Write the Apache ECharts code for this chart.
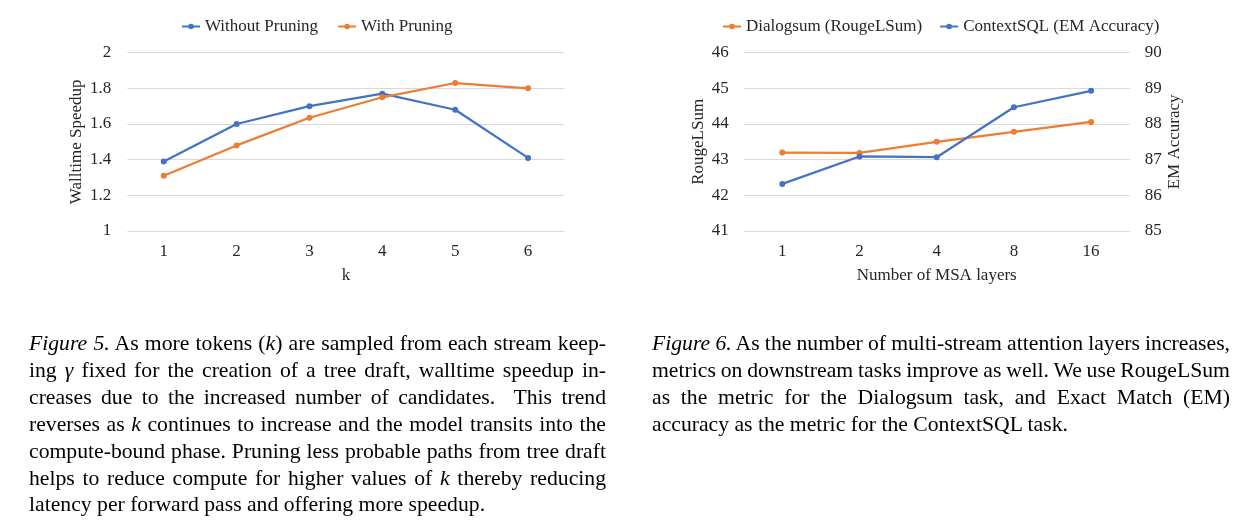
<!DOCTYPE html>
<html><head><meta charset="utf-8">
<script src="https://cdn.jsdelivr.net/npm/echarts@6/dist/echarts.min.js"></script>
<style>
html,body{margin:0;padding:0;background:#fff;width:1257px;height:531px;overflow:hidden;}
#chart{position:absolute;left:0;top:0;width:1257px;height:531px;}
.cap{position:absolute;font-family:"Liberation Serif","Times New Roman",serif;font-size:21.7px;line-height:26.9px;color:#000;}
.cap div{white-space:nowrap;}
.cap span.ln{display:inline-block;white-space:nowrap;}
.cap i{font-style:italic;}
</style></head>
<body>
<div id="chart"></div>
<div class="cap" style="left:29px;top:330px;width:577px;">
<div><span class="ln"><i>Figure 5.</i> As more tokens (<i>k</i>) are sampled from each stream keep-</span></div>
<div><span class="ln">ing <i>γ</i> fixed for the creation of a tree draft, walltime speedup in-</span></div>
<div><span class="ln">creases due to the increased number of candidates.&nbsp; This trend</span></div>
<div><span class="ln">reverses as <i>k</i> continues to increase and the model transits into the</span></div>
<div><span class="ln">compute-bound phase. Pruning less probable paths from tree draft</span></div>
<div><span class="ln">helps to reduce compute for higher values of <i>k</i> thereby reducing</span></div>
<div><span class="last">latency per forward pass and offering more speedup.</span></div>
</div>
<div class="cap" style="left:652px;top:330px;width:578px;">
<div><span class="ln"><i>Figure 6.</i> As the number of multi-stream attention layers increases,</span></div>
<div><span class="ln">metrics on downstream tasks improve as well. We use RougeLSum</span></div>
<div><span class="ln">as the metric for the Dialogsum task, and Exact Match (EM)</span></div>
<div><span class="last">accuracy as the metric for the ContextSQL task.</span></div>
</div>
<script>
// manual justification of caption lines (fixed line breaks as in the figure)
document.querySelectorAll('.cap').forEach(function (cap) {
  var target = parseFloat(cap.style.width);
  cap.querySelectorAll('span.ln').forEach(function (ln) {
    var w = ln.getBoundingClientRect().width;
    var spaces = (ln.textContent.match(/[ \u00a0]/g) || []).length;
    if (spaces > 0) ln.style.wordSpacing = ((target - w) / spaces) + 'px';
  });
});

// ---- data ----
const kCategories = ['1', '2', '3', '4', '5', '6'];
const withoutPruning = [1.39, 1.60, 1.70, 1.77, 1.68, 1.41];
const withPruning = [1.31, 1.48, 1.635, 1.75, 1.83, 1.80];

const msaLayers = ['1', '2', '4', '8', '16'];
const dialogsumRouge = [43.20, 43.19, 43.50, 43.78, 44.06];
const contextSqlEM = [86.32, 87.09, 87.07, 88.47, 88.93];

// ---- styling ----
const BLUE = '#4472C4';
const ORANGE = '#ED7D31';
const FONT = '"Liberation Serif", "Times New Roman", serif';
const TXT = '#262626';
const GRIDC = '#D9D9D9';
const fs = 17;

const chart = echarts.init(document.getElementById('chart'), null, {renderer: 'canvas'});

function catAxis(gridIndex, data, name) {
  return {
    type: 'category', gridIndex, data,
    axisLine: {show: false}, axisTick: {show: false},
    axisLabel: {color: TXT, fontFamily: FONT, fontSize: fs, margin: 12},
    name, nameLocation: 'middle', nameGap: 36,
    nameTextStyle: {color: TXT, fontFamily: FONT, fontSize: fs}
  };
}
function valAxis(gridIndex, min, max, interval, name, position, nameGap, margin) {
  return {
    type: 'value', gridIndex, min, max, interval, position,
    axisLine: {show: false}, axisTick: {show: false},
    splitLine: {show: true, lineStyle: {color: GRIDC, width: 1}},
    axisLabel: {color: TXT, fontFamily: FONT, fontSize: fs, margin},
    name, nameLocation: 'middle', nameGap, nameRotate: 90,
    nameTextStyle: {color: TXT, fontFamily: FONT, fontSize: fs}
  };
}
function lineSeries(name, data, color, xIdx, yIdx) {
  return {
    name, type: 'line', data, xAxisIndex: xIdx, yAxisIndex: yIdx,
    symbol: 'circle', symbolSize: 6, showSymbol: true,
    lineStyle: {color, width: 2.25}, itemStyle: {color},
    animation: false
  };
}

const option = {
  backgroundColor: '#fff',
  animation: false,
  legend: [
    {data: ['Without Pruning', 'With Pruning'], left: 176, top: 13,
     itemWidth: 18, itemHeight: 7, itemGap: 19,
     textStyle: {color: TXT, fontFamily: FONT, fontSize: fs}},
    {data: ['Dialogsum (RougeLSum)', 'ContextSQL (EM Accuracy)'], left: 717, top: 13,
     itemWidth: 18, itemHeight: 7, itemGap: 17,
     textStyle: {color: TXT, fontFamily: FONT, fontSize: fs}}
  ],
  grid: [
    {left: 127.3, top: 52.7, width: 437.2, height: 178.3, containLabel: false},
    {left: 743.7, top: 52.7, width: 386, height: 178.3, containLabel: false}
  ],
  xAxis: [
    catAxis(0, kCategories, 'k'),
    catAxis(1, msaLayers, 'Number of MSA layers')
  ],
  yAxis: [
    valAxis(0, 1, 2, 0.2, 'Walltime Speedup', 'left', 42, 16),
    valAxis(1, 41, 46, 1, 'RougeLSum', 'left', 37, 15),
    Object.assign(valAxis(1, 85, 90, 1, 'EM Accuracy', 'right', 36, 15), {splitLine: {show: false}})
  ],
  series: [
    lineSeries('Without Pruning', withoutPruning, BLUE, 0, 0),
    lineSeries('With Pruning', withPruning, ORANGE, 0, 0),
    lineSeries('Dialogsum (RougeLSum)', dialogsumRouge, ORANGE, 1, 1),
    lineSeries('ContextSQL (EM Accuracy)', contextSqlEM, BLUE, 1, 2)
  ]
};
chart.setOption(option);
</script>
</body></html>
